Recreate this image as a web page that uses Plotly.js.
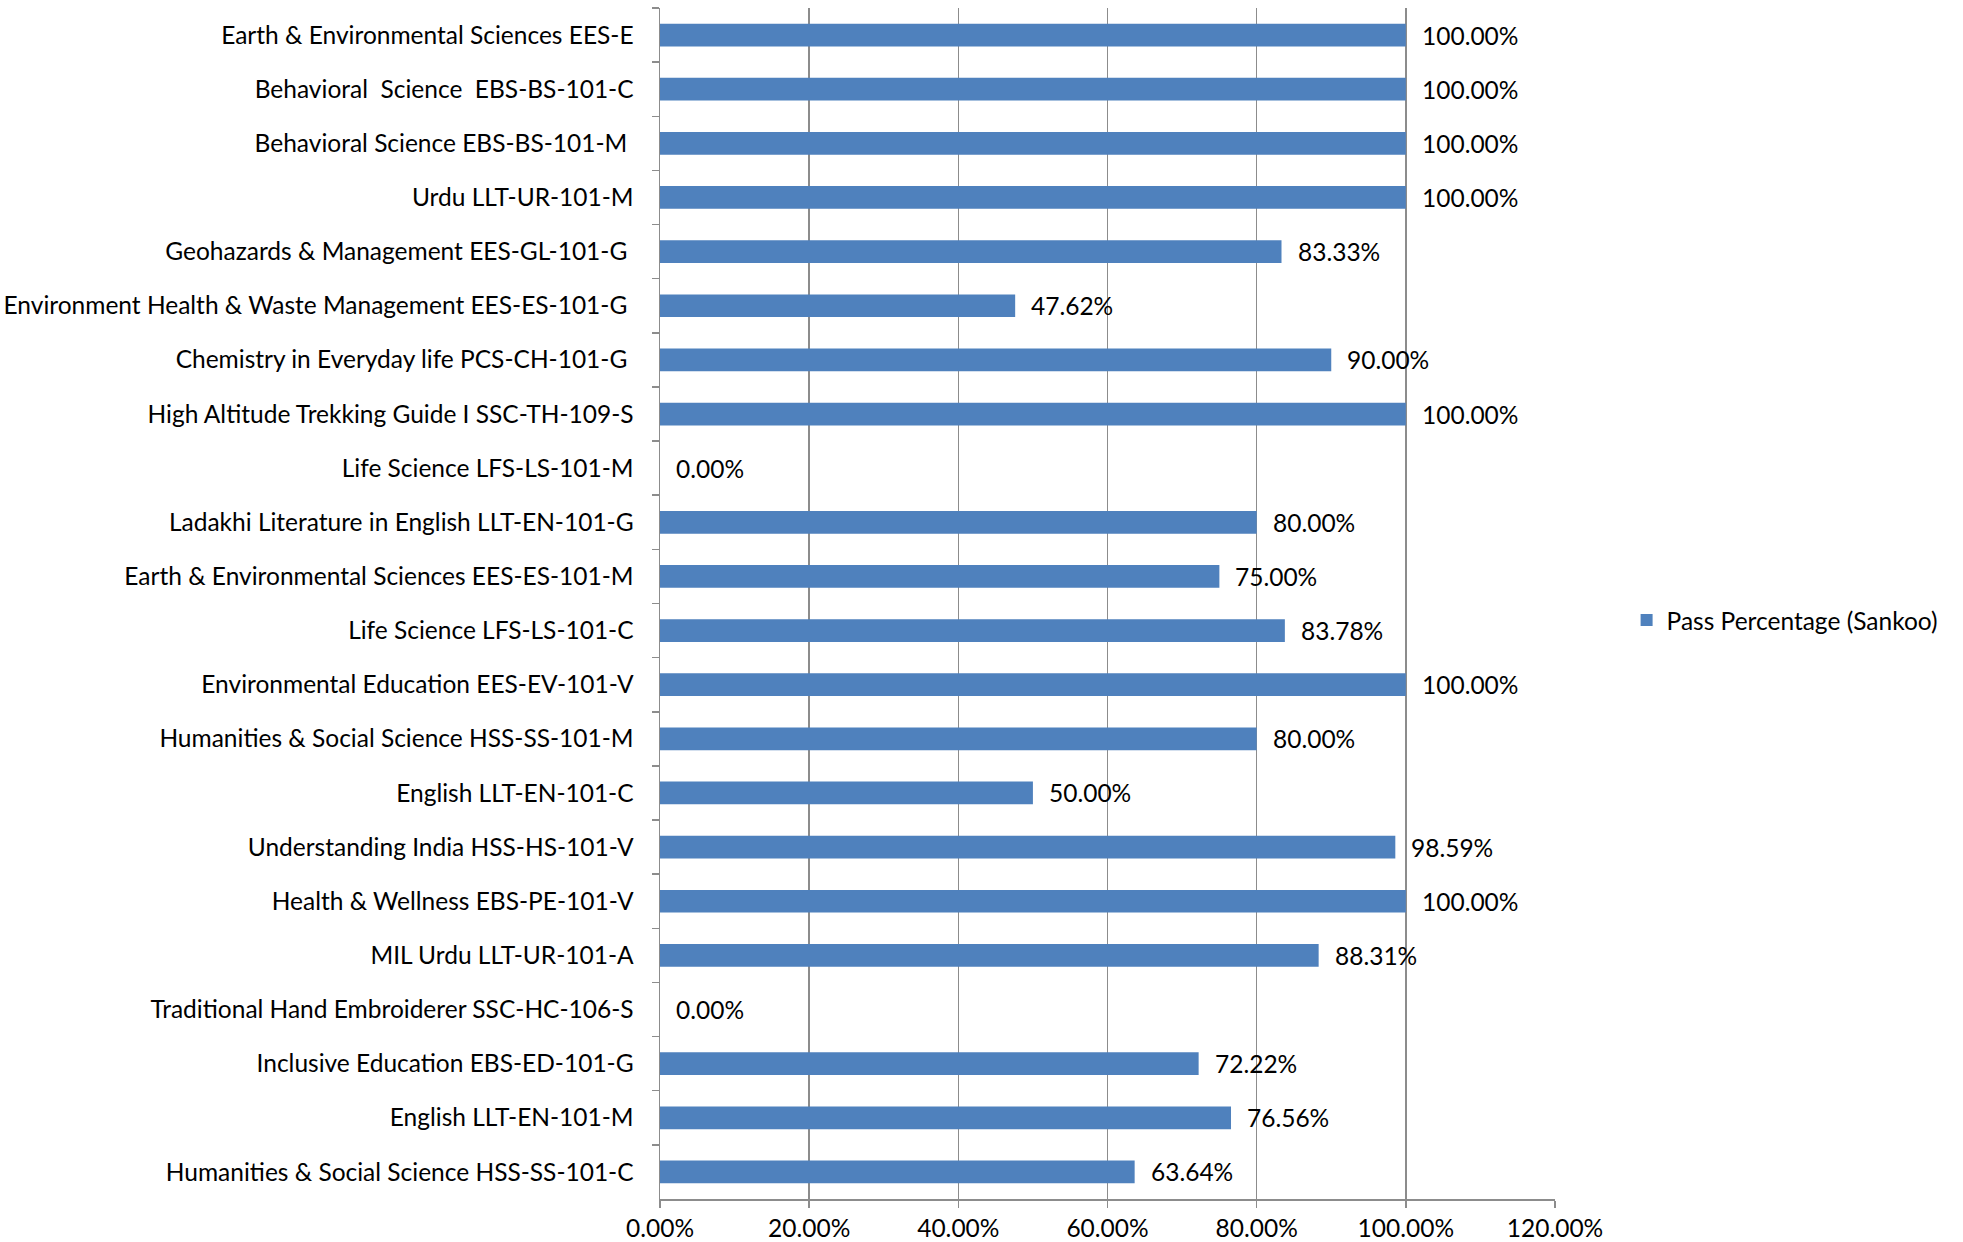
<!DOCTYPE html>
<html><head><meta charset="utf-8">
<script src="https://cdn.plot.ly/plotly-3.0.1.min.js"></script>
<style>html,body{margin:0;padding:0;background:#fff}#chart{width:1963px;height:1242px}</style>
</head><body><div id="chart"></div>
<script>
const categories = [
  "Earth & Environmental Sciences EES-E",
  "Behavioral\u00A0\u00A0Science\u00A0\u00A0EBS-BS-101-C",
  "Behavioral Science EBS-BS-101-M\u00A0",
  "Urdu LLT-UR-101-M",
  "Geohazards & Management EES-GL-101-G\u00A0",
  "Environment Health & Waste Management EES-ES-101-G\u00A0",
  "Chemistry in Everyday life PCS-CH-101-G\u00A0",
  "High Altitude Trekking Guide I SSC-TH-109-S",
  "Life Science LFS-LS-101-M",
  "Ladakhi Literature in English LLT-EN-101-G",
  "Earth & Environmental Sciences EES-ES-101-M",
  "Life Science LFS-LS-101-C",
  "Environmental Education EES-EV-101-V",
  "Humanities & Social Science HSS-SS-101-M",
  "English LLT-EN-101-C",
  "Understanding India HSS-HS-101-V",
  "Health & Wellness EBS-PE-101-V",
  "MIL Urdu LLT-UR-101-A",
  "Traditional Hand Embroiderer SSC-HC-106-S",
  "Inclusive Education EBS-ED-101-G",
  "English LLT-EN-101-M",
  "Humanities & Social Science HSS-SS-101-C"
];
const passPct = [100, 100, 100, 100, 83.33, 47.62, 90, 100, 0, 80, 75, 83.78, 100, 80, 50, 98.59, 100, 88.31, 0, 72.22, 76.56, 63.64];
const seriesName = "Pass Percentage (Sankoo)";
const xTicks = [0, 20, 40, 60, 80, 100, 120];

const FONT = "Lato, 'Open Sans', sans-serif";
const FS = 24.5;
const trace = {
  type: "bar", orientation: "h",
  y: categories, x: passPct, name: seriesName,
  marker: {color: "#4F81BD"},
  hoverinfo: "x+y"
};
const annotations = categories.map((c, i) => ({
  x: passPct[i], y: c, xref: "x", yref: "y",
  text: passPct[i].toFixed(2) + "%",
  showarrow: false, xanchor: "left", yanchor: "middle", xshift: 14,
  font: {family: FONT, size: FS, color: "#000"}
}));
const layout = {
  width: 1963, height: 1242,
  margin: {l: 660, r: 408, t: 8, b: 43},
  paper_bgcolor: "#fff", plot_bgcolor: "#fff",
  font: {family: FONT, size: FS, color: "#000"},
  bargap: 0.58,
  showlegend: true,
  legend: {x: 1.08, y: 0.486, xanchor: "left", yanchor: "middle", itemwidth: 30,
           font: {family: FONT, size: FS}},
  xaxis: {
    range: [0, 120], tickvals: xTicks, ticktext: xTicks.map(v => v.toFixed(2) + "%"),
    showgrid: true, gridcolor: "#8c8c8c", gridwidth: 1.5,
    showline: true, linecolor: "#8c8c8c", linewidth: 1.5,
    ticks: "outside", ticklen: 7, tickcolor: "#8c8c8c", tickwidth: 1.5,
    zeroline: false, fixedrange: true,
    tickfont: {family: FONT, size: FS}
  },
  yaxis: {
    type: "category", autorange: "reversed",
    showline: true, linecolor: "#8c8c8c", linewidth: 1.5,
    ticks: "outside", tickson: "boundaries", ticklen: 7, tickcolor: "#8c8c8c", tickwidth: 1.5,
    showgrid: false, ticklabelstandoff: 20,
    tickfont: {family: FONT, size: FS}
  },
  annotations: annotations
};
Plotly.newPlot("chart", [trace], layout, {displayModeBar: false, staticPlot: true});
</script></body></html>
